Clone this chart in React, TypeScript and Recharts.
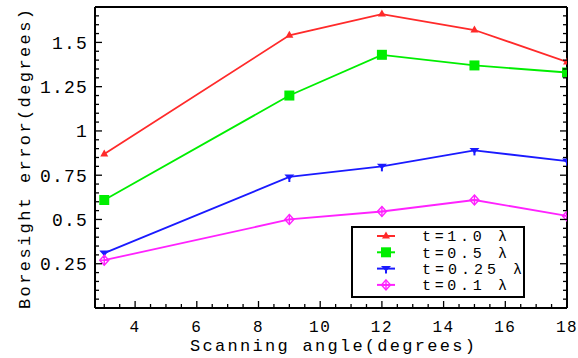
import { LineChart, Line, XAxis, YAxis, Legend } from 'recharts'

// Boresight error vs scanning angle for four radome wall thicknesses
const angles = [3, 9, 12, 15, 18]
const errT10 = [0.87, 1.54, 1.66, 1.57, 1.39]
const errT05 = [0.61, 1.2, 1.43, 1.37, 1.33]
const errT025 = [0.31, 0.74, 0.8, 0.89, 0.83]
const errT01 = [0.27, 0.5, 0.545, 0.61, 0.52]

const seriesNames = ['t=1.0 λ', 't=0.5 λ', 't=0.25 λ', 't=0.1 λ']
const seriesColors = ['#ff2a2a', '#00ee00', '#1a1aff', '#ff22ff']

const xMajor = [4, 6, 8, 10, 12, 14, 16, 18]
const yMajor = [0.25, 0.5, 0.75, 1, 1.25, 1.5]
const yMajorLabels = ['0.25', '0.5', '0.75', '1', '1.25', '1.5']

const X_DOMAIN: [number, number] = [2.7, 18]
const Y_DOMAIN: [number, number] = [0, 1.7]

// minor ticks: every 0.5 on x, every 0.05 on y
const xMinor = Array.from({ length: 31 }, (_, i) => 3 + i * 0.5)
const yMinor = Array.from({ length: 34 }, (_, i) => +(0.05 + i * 0.05).toFixed(2))

const data = angles.map((a, i) => ({
  angle: a,
  t10: errT10[i],
  t05: errT05[i],
  t025: errT025[i],
  t01: errT01[i],
}))

const FONT = '"Liberation Mono", "DejaVu Sans Mono", monospace'
const isMajorX = (v: number) => xMajor.includes(v)
const isMajorY = (v: number) => yMajor.some((m) => Math.abs(m - v) < 1e-6)

function BottomTick({ x, y, payload }: any) {
  const major = isMajorX(payload.value)
  return (
    <g>
      <line x1={x} x2={x} y1={y} y2={y - (major ? 7 : 4)} stroke="#000" strokeWidth={1.3} />
      {major && (
        <text x={x} y={y + 23.5} textAnchor="middle" fontFamily={FONT} fontSize={16} letterSpacing={1.5} fill="#000">
          {payload.value}
        </text>
      )}
    </g>
  )
}

function TopTick({ x, y }: any) {
  return <line x1={x} x2={x} y1={y} y2={y + 6} stroke="#000" strokeWidth={1.3} />
}

function LeftTick({ x, y, payload }: any) {
  const major = isMajorY(payload.value)
  const idx = yMajor.findIndex((m) => Math.abs(m - payload.value) < 1e-6)
  return (
    <g>
      <line x1={x} x2={x + (major ? 7 : 4)} y1={y} y2={y} stroke="#000" strokeWidth={1.3} />
      {major && (
        <text x={x - 7} y={y} dy="0.36em" textAnchor="end" fontFamily={FONT} fontSize={18} letterSpacing={1.2} fill="#000">
          {yMajorLabels[idx]}
        </text>
      )}
    </g>
  )
}

function RightTick({ x, y, payload }: any) {
  const major = isMajorY(payload.value)
  return <line x1={x} x2={x - (major ? 7 : 4)} y1={y} y2={y} stroke="#000" strokeWidth={1.3} />
}

// point markers
function Marker({ kind, cx, cy, color }: { kind: number; cx: number; cy: number; color: string }) {
  if (kind === 0)
    return <polygon points={`${cx},${cy - 4.5} ${cx + 4},${cy + 2.5} ${cx - 4},${cy + 2.5}`} fill={color} />
  if (kind === 1) return <rect x={cx - 5} y={cy - 5} width={10} height={10} fill={color} />
  if (kind === 2)
    return (
      <g>
        <polygon points={`${cx - 5},${cy - 2.5} ${cx + 5},${cy - 2.5} ${cx},${cy + 3}`} fill={color} />
        <line x1={cx} x2={cx} y1={cy} y2={cy + 5} stroke={color} strokeWidth={2} />
      </g>
    )
  return (
    <g fill="none" stroke={color} strokeWidth={1.4}>
      <polygon points={`${cx},${cy - 5} ${cx + 4.5},${cy} ${cx},${cy + 5} ${cx - 4.5},${cy}`} />
      <line x1={cx - 4.5} x2={cx + 4.5} y1={cy} y2={cy} />
      <line x1={cx} x2={cx} y1={cy - 5} y2={cy + 5} />
    </g>
  )
}

const makeDot = (kind: number) => (p: any) =>
  <Marker key={`m${kind}-${p.index}`} kind={kind} cx={p.cx} cy={p.cy} color={seriesColors[kind]} />

// text widths of the legend entries
const legendTextWidths = [85, 85, 100, 85]

function LegendBox() {
  return (
    <svg width={174} height={72} style={{ display: 'block' }}>
      <rect x={1} y={1} width={172} height={70} fill="#fff" stroke="#000" strokeWidth={2} />
      {seriesNames.map((name, i) => {
        const cy = 10 + i * 16.3
        return (
          <g key={name}>
            <line x1={26} x2={44} y1={cy} y2={cy} stroke={seriesColors[i]} strokeWidth={2} />
            <Marker kind={i} cx={35} cy={cy} color={seriesColors[i]} />
            <text
              x={71}
              y={cy}
              dy="0.36em"
              fontFamily={FONT}
              fontSize={15}
              textLength={legendTextWidths[i]}
              lengthAdjust="spacing"
              fill="#000"
            >
              {name}
            </text>
          </g>
        )
      })}
    </svg>
  )
}

const keys = ['t10', 't05', 't025', 't01']

export default function App() {
  return (
    <div style={{ width: 578, height: 358, background: '#fff' }}>
      <style>{'body{margin:0}'}</style>
      <LineChart width={578} height={358} data={data} margin={{ top: 6, right: 10, bottom: 0, left: 0 }}>
        <XAxis
          xAxisId="b"
          dataKey="angle"
          type="number"
          domain={X_DOMAIN}
          allowDataOverflow
          ticks={xMinor}
          interval={0}
          height={50}
          tickSize={0}
          tickMargin={0}
          tickLine={false}
          tick={<BottomTick />}
          axisLine={{ stroke: '#000', strokeWidth: 2 }}
          label={{
            content: () => (
              <text
                x={190}
                y={351}
                fontFamily={FONT}
                fontSize={17}
                textLength={285}
                lengthAdjust="spacing"
                fill="#000"
              >
                Scanning angle(degrees)
              </text>
            ),
          }}
        />
        <XAxis
          xAxisId="t"
          orientation="top"
          type="number"
          domain={X_DOMAIN}
          allowDataOverflow
          ticks={xMajor}
          interval={0}
          height={1}
          tickSize={0}
          tickMargin={0}
          tickLine={false}
          tick={<TopTick />}
          axisLine={{ stroke: '#000', strokeWidth: 2 }}
        />
        <YAxis
          yAxisId="l"
          type="number"
          domain={Y_DOMAIN}
          allowDataOverflow
          ticks={yMinor}
          interval={0}
          width={95}
          tickSize={0}
          tickMargin={0}
          tickLine={false}
          tick={<LeftTick />}
          axisLine={{ stroke: '#000', strokeWidth: 2 }}
          label={{
            content: () => (
              <text
                x={0}
                y={0}
                dy="0.36em"
                transform="translate(24 309) rotate(-90)"
                fontFamily={FONT}
                fontSize={17}
                textLength={300}
                lengthAdjust="spacing"
                fill="#000"
              >
                Boresight error(degrees)
              </text>
            ),
          }}
        />
        <YAxis
          yAxisId="r"
          orientation="right"
          type="number"
          domain={Y_DOMAIN}
          allowDataOverflow
          ticks={yMinor}
          interval={0}
          width={1}
          tickSize={0}
          tickMargin={0}
          tickLine={false}
          tick={<RightTick />}
          axisLine={{ stroke: '#000', strokeWidth: 2 }}
        />
        {keys.map((k, i) => (
          <Line
            key={k}
            xAxisId="b"
            yAxisId="l"
            dataKey={k}
            name={seriesNames[i]}
            type="linear"
            stroke={seriesColors[i]}
            strokeWidth={1.8}
            dot={makeDot(i)}
            activeDot={false}
            isAnimationActive={false}
          />
        ))}
        <Legend
          layout="horizontal"
          verticalAlign="middle"
          align="center"
          content={() => <LegendBox />}
          wrapperStyle={{ position: 'absolute', left: 351, top: 226, width: 'auto', height: 'auto' }}
        />
      </LineChart>
    </div>
  )
}
